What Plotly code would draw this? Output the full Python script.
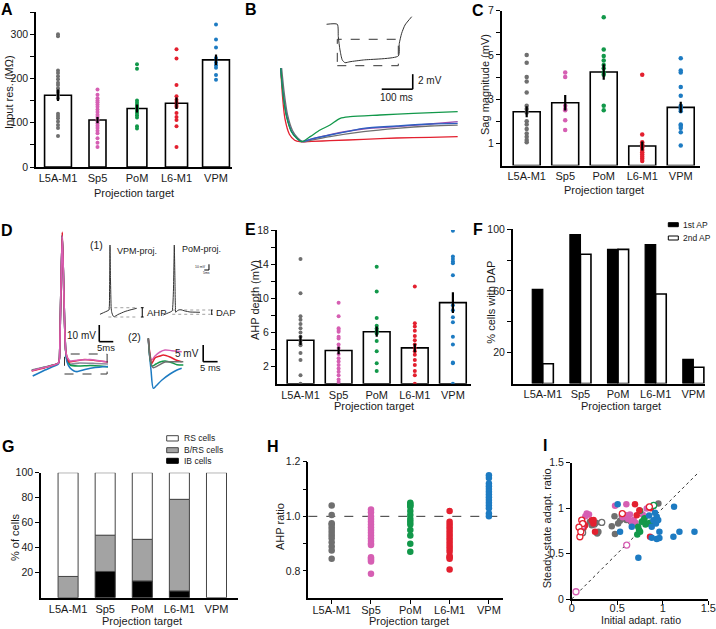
import plotly.graph_objects as go

W, H = 716, 629
FONT = "Liberation Sans, Arial, sans-serif"

categories = ["L5A-M1", "Sp5", "PoM", "L6-M1", "VPM"]
group_colors = ["#6f6f6f", "#d65fb3", "#12984a", "#e3202f", "#1d7bc2"]

# ---------------- A: input resistance ----------------
inres_mean = [162, 106, 132, 144, 242]
inres_sem = [13, 7, 9, 13, 12]
inres_points = [
    [300, 295, 218, 212, 205, 198, 190, 185, 178, 172, 168, 162, 155, 120, 115, 110, 103, 95, 88, 70],
    [175, 163, 155, 150, 146, 141, 136, 130, 124, 118, 113, 108, 103, 98, 93, 88, 82, 76, 65, 55, 45],
    [232, 222, 150, 145, 140, 136, 132, 127, 122, 117, 112, 92, 87],
    [266, 245, 185, 160, 152, 146, 140, 136, 122, 113, 106, 92, 45],
    [322, 288, 270, 246, 236, 230, 224, 208, 197],
]
inres_bar_width = [0.68, 0.43, 0.5, 0.56, 0.68]

# ---------------- C: sag ----------------
sag_mean = [2.43, 2.84, 4.23, 0.88, 2.63]
sag_sem = [0.25, 0.35, 0.35, 0.2, 0.25]
sag_points = [
    [5.0, 4.65, 4.0, 3.8, 3.3, 2.7, 2.55, 2.4, 2.0, 1.85, 1.65, 1.45, 1.3, 1.15, 1.05],
    [4.2, 4.0, 2.7, 2.55, 2.5, 2.05, 1.6],
    [6.7, 5.25, 4.95, 4.75, 4.55, 4.4, 4.2, 4.1, 2.7, 2.5],
    [4.1, 1.4, 1.05, 0.95, 0.85, 0.8, 0.7, 0.6, 0.5, 0.4, 0.3, 0.2],
    [4.85, 4.3, 4.2, 3.55, 3.15, 2.7, 2.6, 2.55, 2.45, 1.85, 1.8, 1.7, 1.5, 0.9],
]

# ---------------- E: AHP depth ----------------
ahp_mean = [5.1, 3.9, 6.1, 4.2, 9.5]
ahp_sem = [0.55, 0.45, 0.6, 0.5, 1.2]
ahp_points = [
    [14.6, 10.6, 7.9, 7.5, 7.0, 6.5, 6.0, 5.5, 5.0, 4.7, 4.5, 3.6, 2.8, 1.0, 0.0],
    [9.5, 7.9, 6.5, 6.3, 6.1, 5.5, 5.3, 4.6, 4.2, 3.5, 3.0, 2.6, 2.2, 1.8, 1.4, 1.0, 0.5, 0.2],
    [13.7, 10.8, 7.7, 6.8, 6.5, 6.3, 6.1, 5.9, 5.0, 3.8, 2.4, 1.5],
    [11.4, 7.1, 6.7, 6.2, 5.6, 5.1, 4.6, 4.2, 3.8, 3.4, 2.8, 2.2, 1.5, 1.0, 0.0],
    [17.9, 14.9, 14.6, 14.3, 14.1, 12.7, 9.2, 8.6, 7.8, 7.2, 5.5, 4.6, 2.5, 2.4, 0.0],
]

# ---------------- F: % cells with DAP ----------------
dap_first = [61, 96.5, 87, 90, 15.7]
dap_second = [12.8, 83.8, 87, 58, 10.5]

# ---------------- G: firing classes ----------------
ib_cells = [0, 21, 13.4, 5.4, 0]
brs_cells = [17, 29, 33.3, 73.3, 0]
rs_cells = [83, 50, 53.3, 21.3, 100]

# ---------------- H: AHP ratio ----------------
ahp_ratio_points = [
    [1.04, 1.005, 0.975, 0.97, 0.96, 0.95, 0.94, 0.93, 0.92, 0.905, 0.89, 0.875, 0.845],
    [1.025, 1.015, 1.0, 0.99, 0.98, 0.97, 0.96, 0.95, 0.94, 0.93, 0.92, 0.91, 0.90, 0.895, 0.85, 0.845, 0.84, 0.835, 0.79],
    [1.05, 1.045, 1.04, 1.035, 1.02, 1.005, 0.99, 0.98, 0.97, 0.95, 0.93, 0.90, 0.87],
    [1.02, 0.98, 0.97, 0.96, 0.95, 0.94, 0.93, 0.92, 0.91, 0.90, 0.89, 0.88, 0.87, 0.855, 0.85, 0.845, 0.805],
    [1.15, 1.14, 1.12, 1.11, 1.10, 1.09, 1.08, 1.07, 1.06, 1.05, 1.04, 1.03, 1.01, 1.0],
]

# ---------------- I: adaptation ratios (filled / open per group) ----------------
adapt_init_filled = [
    [0.44, 0.475, 0.51, 0.53, 0.567, 0.22, 0.267, 0.293, 0.25, 0.2, 0.952, 0.6, 0.65, 0.47, 0.55, 0.28],
    [0.165, 0.19, 0.476, 0.6, 0.6, 0.64, 0.66, 0.68, 0.78, 0.824, 0.70, 0.56, 0.62, 0.15],
    [0.751, 0.77, 0.79, 0.73, 0.751, 0.81, 0.842, 0.86, 0.72, 0.74, 0.80],
    [0.128, 0.146, 0.11, 0.22, 0.238, 0.256, 0.695, 0.743, 0.714, 0.87, 0.86, 0.24, 0.13],
    [0.505, 1.124, 0.915, 0.934, 0.897, 0.926, 0.879, 0.531, 0.963, 0.879, 0.934, 0.963, 1.117, 1.183, 1.348, 0.732, 0.66, 0.85, 0.95],
]
adapt_steady_filled = [
    [0.80, 0.714, 0.83, 0.86, 0.887, 0.813, 0.84, 0.74, 0.82, 0.85, 1.05, 0.87, 0.85, 0.91, 0.92, 0.72],
    [0.94, 0.93, 1.025, 1.044, 0.923, 0.93, 0.85, 0.87, 0.93, 0.996, 0.84, 0.90, 0.88, 0.91],
    [0.971, 0.85, 0.87, 0.795, 0.74, 0.82, 0.832, 0.84, 0.71, 0.76, 0.89],
    [0.83, 0.81, 0.795, 0.868, 0.832, 0.74, 1.044, 0.978, 0.923, 1.0, 0.685, 0.87, 0.78],
    [1.044, 1.014, 0.949, 0.905, 0.868, 0.832, 0.795, 0.74, 0.74, 0.674, 0.66, 0.67, 0.685, 0.74, 0.74, 0.454, 0.795, 0.92, 0.87],
]
adapt_init_open = [
    [0.33, 0.12],
    [0.604, 0.047, 0.11],
    [0.9],
    [0.11, 0.09, 0.556, 0.853, 0.12, 0.08, 0.10],
    [],
]
adapt_steady_open = [
    [0.843, 0.73],
    [0.593, 0.08, 0.80],
    [1.03],
    [0.868, 0.685, 0.94, 1.014, 0.83, 0.79, 0.74],
    [],
]

# ---------------- B: sag traces (ms, mV) ----------------
sag_trace_colors = ["#e3202f", "#6f6f6f", "#9a4fb0", "#2f5fc0", "#12984a"]
sag_trace_t = [
    [0, 6, 14, 28, 45, 62, 100, 159, 267, 374, 482, 571],
    [3, 12, 22, 38, 55, 72, 100, 159, 267, 374, 482, 571],
    [0, 8.6, 19, 35, 52, 68, 95, 159, 267, 374, 482, 571],
    [0, 8.6, 19, 35, 52, 68, 95, 159, 213, 267, 374, 482, 571],
    [0, 8.6, 19, 35, 52, 68, 95, 127, 159, 192, 224, 320, 428, 571],
]
sag_trace_v = [
    [9.8, 6.0, 3.0, 1.0, 0.2, 0.0, 0.05, 0.13, 0.31, 0.49, 0.58, 0.67],
    [9.8, 6.3, 3.6, 1.5, 0.5, 0.0, 0.2, 0.67, 1.33, 1.78, 2.09, 2.22],
    [9.8, 6.1, 3.4, 1.35, 0.45, 0.0, 0.3, 0.95, 1.69, 2.0, 2.36, 2.67],
    [9.8, 6.2, 3.5, 1.4, 0.45, 0.0, 0.31, 0.89, 1.33, 1.78, 2.09, 2.36, 2.45],
    [9.8, 6.0, 3.3, 1.3, 0.45, 0.0, 0.67, 1.56, 2.22, 3.11, 3.33, 3.56, 3.78, 4.0],
]
sag_full_t = [148, 182.6, 185.8, 191.3, 198.7, 207.4, 223.5, 266.5, 379.4, 382.6, 390.3, 401, 422.6]
sag_full_v = [15.65, 15.65, 14.0, 12.22, 10.89, 10.53, 10.66, 10.89, 11.43, 13.1, 14.45, 15.55, 16.66]

# ---------------- D: spike traces (ms, mV) ----------------
spike_colors = ["#8e8a9e", "#12984a", "#1d7bc2", "#e3202f", "#d65fb3"]
spike_t = [
    [2.4, 7.1, 11.9, 12.3, 12.6, 12.96, 13.3, 13.67, 14.1, 14.5, 15.0, 16.1, 19.6, 25.0, 29.6],
    [2.4, 7.1, 11.9, 12.3, 12.6, 12.96, 13.3, 13.67, 14.1, 14.5, 15.0, 16.1, 18.9, 23.2, 26.8, 29.6],
    [2.75, 7.1, 11.9, 12.3, 12.6, 12.96, 13.3, 13.67, 14.1, 14.5, 15.0, 16.1, 17.5, 18.6, 21.4, 25.0, 29.6],
    [2.4, 7.1, 11.9, 12.3, 12.6, 12.96, 13.3, 13.67, 14.1, 14.5, 15.0, 15.7, 17.85, 21.4, 25.0, 29.6],
    [2.4, 7.1, 11.9, 12.3, 12.6, 12.96, 13.3, 13.67, 14.1, 14.5, 15.0, 16.1, 19.6, 23.2, 26.8, 29.6],
]
spike_v = [
    [-70.0, -68.2, -65.8, -62.8, -40, -10, 11.0, -10, -40, -58, -64.0, -66.4, -65.8, -66.1, -66.4],
    [-70.3, -68.4, -66.0, -62.8, -40, -10, 11.0, -10, -40, -58, -64.0, -67.0, -67.6, -67.3, -67.6, -68.2],
    [-73.6, -70.0, -66.4, -62.8, -40, -10, 11.0, -10, -40, -58, -65.2, -68.8, -70.6, -71.0, -69.7, -68.5, -67.9],
    [-70.6, -68.6, -66.0, -62.8, -40, -10, 12.8, -10, -40, -58, -62.2, -65.2, -64.6, -63.7, -64.3, -65.2],
    [-70.4, -68.4, -65.9, -62.8, -40, -10, 10.4, -10, -40, -58, -62.2, -64.6, -64.0, -63.7, -64.6, -65.2],
]
# inset (1): example spikes
vpm_ex_t = [5.3, 10.6, 14.9, 15.5, 15.96, 16.5, 17.2, 17.8, 19.2, 20.5, 24.5, 31.9, 37.2, 44.4]
vpm_ex_v = [-70.5, -66.5, -63.0, -28.0, 50.75, -10.5, -59.5, -67.0, -73.5, -74.7, -70.9, -65.6, -63.0, -60.0]
pom_ex_t = [72.7, 77.7, 82.2, 83.5, 84.4, 85.1, 85.9, 87.2, 90.4, 95.8, 101.1, 111.7]
pom_ex_v = [-71.75, -68.25, -64.75, -28.0, 50.75, -10.5, -67.0, -64.75, -62.1, -64.75, -66.5, -67.0]
# inset (2): zoom of AHP/DAP
zoom_colors = ["#1d7bc2", "#d65fb3", "#e3202f", "#12984a", "#6f6f6f"]
zoom_t = [
    [6.35, 6.77, 7.29, 8.09, 9.02, 11.1, 13.88, 16.31, 17.94],
    [6.35, 6.94, 7.53, 8.68, 10.41, 12.15, 14.57, 17.94],
    [6.35, 6.94, 7.53, 8.68, 10.41, 11.56, 13.88, 15.96, 17.94],
    [6.35, 6.94, 7.63, 9.02, 10.41, 12.15, 14.57, 16.31, 18.5],
    [6.35, 6.94, 7.63, 8.09, 9.72, 12.15, 15.6, 18.5],
]
zoom_v = [
    [-60.0, -65.0, -69.5, -75.0, -74.3, -72.5, -70.7, -69.5, -69.0],
    [-60.0, -65.0, -66.5, -65.3, -64.1, -63.5, -63.7, -64.0],
    [-60.0, -65.0, -67.5, -65.9, -65.3, -65.0, -65.6, -66.5, -67.0],
    [-60.0, -65.9, -68.3, -67.7, -67.1, -66.8, -67.3, -67.9, -68.0],
    [-60.0, -65.9, -68.3, -68.8, -68.2, -67.1, -67.0, -67.0],
]

# =====================================================================
fig = go.Figure()
layout = {}


def ax_id(n):
    return "" if n == 1 else str(n)


def add_axes(n, xpx, ypx, xr, yr, visible=True, xkw=None, ykw=None):
    s = ax_id(n)
    base = dict(showgrid=False, zeroline=False, fixedrange=True, automargin=False)
    xa = dict(base, domain=[xpx[0] / W, xpx[1] / W], range=xr, anchor="y" + s)
    ya = dict(base, domain=[1 - ypx[1] / H, 1 - ypx[0] / H], range=yr, anchor="x" + s)
    if visible:
        style = dict(showline=True, linecolor="black", linewidth=1.5, ticks="outside",
                     ticklen=4, tickwidth=1.2, tickcolor="black")
        xa.update(style, tickfont=dict(size=11, family=FONT, color="#1a1a1a"))
        ya.update(style, tickfont=dict(size=10.5, family=FONT, color="#1a1a1a"))
    else:
        xa["visible"] = False
        ya["visible"] = False
    if xkw:
        xa.update(xkw)
    if ykw:
        ya.update(ykw)
    layout["xaxis" + s] = xa
    layout["yaxis" + s] = ya


cat_x = dict(tickmode="array", tickvals=list(range(5)), ticktext=categories, ticks="")

add_axes(1, (36, 232), (12, 167), [-0.557, 4.405], [0, 350], xkw=cat_x,
         ykw=dict(tickmode="array", tickvals=list(range(0, 351, 50)),
                  ticktext=[str(v) if v % 100 == 0 else "" for v in range(0, 351, 50)]))
add_axes(2, (501.7, 700), (10.7, 165.5), [-0.649, 4.5], [0, 7], xkw=cat_x,
         ykw=dict(tickmode="array", tickvals=list(range(1, 8)),
                  ticktext=[str(v) if v % 2 == 1 else "" for v in range(1, 8)]))
add_axes(3, (276.7, 471), (230, 383.8), [-0.625, 4.475], [0, 18], xkw=cat_x,
         ykw=dict(tickmode="array", tickvals=list(range(2, 19, 2)),
                  ticktext=[str(v) if v % 4 == 2 else "" for v in range(2, 19, 2)]))
add_axes(4, (512.7, 705), (229.3, 383.5), [-0.8, 4.31], [0, 100], xkw=cat_x,
         ykw=dict(tickmode="array", tickvals=[20, 40, 60, 80, 100],
                  ticktext=["20", "", "60", "", "100"]))
add_axes(5, (41, 238), (472.7, 597.7), [-0.73, 4.58], [0, 100], xkw=cat_x,
         ykw=dict(tickmode="array", tickvals=[20, 40, 60, 80, 100]))
add_axes(6, (308.3, 503.3), (461.7, 598.3), [-0.595, 4.366], [0.7, 1.2],
         xkw=dict(tickmode="array", tickvals=list(range(5)), ticktext=categories,
                  ticklabelstandoff=-3),
         ykw=dict(tickmode="array", tickvals=[0.8, 0.9, 1.0, 1.1, 1.2],
                  ticktext=["0.8", "", "1.0", "", "1.2"]))
add_axes(7, (571.7, 708.3), (462.7, 599), [0, 1.5], [0, 1.5],
         xkw=dict(tickmode="array", tickvals=[0, 0.5, 1, 1.5], ticktext=["0", "0.5", "1", "1.5"],
                  ticklabelstandoff=-6),
         ykw=dict(tickmode="array", tickvals=[0, 0.5, 1, 1.5], ticktext=["0", "0.5", "1", "1.5"]))
add_axes(8, (270, 465), (5, 175), [-34.5, 594.6], [-4.44, 18.22], visible=False)
add_axes(9, (25, 120), (225, 385), [0, 33.9], [-79, 17], visible=False)
add_axes(10, (95, 235), (238, 325), [0, 149], [-89.25, 63], visible=False)
add_axes(11, (130, 225), (330, 395), [0, 32.97], [-77, -57.5], visible=False)


def refs(n):
    s = ax_id(n)
    return dict(xaxis="x" + s, yaxis="y" + s)


def bar_panel(n, means, sems, points, widths, dot_size):
    fig.add_trace(go.Bar(x=list(range(5)), y=means, width=widths,
                         marker=dict(color="white", line=dict(color="black", width=1.6)),
                         showlegend=False, **refs(n)))
    for i, pts in enumerate(points):
        fig.add_trace(go.Scatter(x=[i] * len(pts), y=pts, mode="markers",
                                 marker=dict(size=dot_size, color=group_colors[i]),
                                 showlegend=False, **refs(n)))
    fig.add_trace(go.Scatter(x=list(range(5)), y=means, mode="markers",
                             marker=dict(size=1, color="black", opacity=0),
                             error_y=dict(type="data", array=sems, thickness=2.2, width=0, color="black"),
                             showlegend=False, **refs(n)))


bar_panel(1, inres_mean, inres_sem, inres_points, inres_bar_width, 4)
bar_panel(2, sag_mean, sag_sem, sag_points, [0.7] * 5, 4.5)
bar_panel(3, ahp_mean, ahp_sem, ahp_points, [0.7] * 5, 4)

# F
fig.add_trace(go.Bar(x=list(range(5)), y=dap_first, width=0.28, offset=-0.28,
                     marker=dict(color="black", line=dict(color="black", width=1.2)),
                     showlegend=False, **refs(4)))
fig.add_trace(go.Bar(x=list(range(5)), y=dap_second, width=0.28, offset=0,
                     marker=dict(color="white", line=dict(color="black", width=1.6)),
                     showlegend=False, **refs(4)))


# G (stacked via base); empty segments are not drawn
def nonzero(vals):
    return [v if v > 0 else None for v in vals]


brs_base = ib_cells
rs_base = [a + b for a, b in zip(ib_cells, brs_cells)]
fig.add_trace(go.Bar(x=list(range(5)), y=nonzero(ib_cells), width=0.54,
                     marker=dict(color="black", line=dict(color="#333", width=1)),
                     showlegend=False, **refs(5)))
fig.add_trace(go.Bar(x=list(range(5)), y=nonzero(brs_cells), base=brs_base, width=0.54,
                     marker=dict(color="#a3a3a3", line=dict(color="#444", width=1)),
                     showlegend=False, **refs(5)))
fig.add_trace(go.Bar(x=list(range(5)), y=nonzero(rs_cells), base=rs_base, width=0.54,
                     marker=dict(color="white", line=dict(color="#444", width=1)),
                     showlegend=False, **refs(5)))

# H
for i, pts in enumerate(ahp_ratio_points):
    fig.add_trace(go.Scatter(x=[i] * len(pts), y=pts, mode="markers",
                             marker=dict(size=6.5, color=group_colors[i]),
                             showlegend=False, **refs(6)))

# I
for i in range(5):
    fig.add_trace(go.Scatter(x=adapt_init_filled[i], y=adapt_steady_filled[i], mode="markers",
                             marker=dict(size=6.5, color=group_colors[i]),
                             showlegend=False, **refs(7)))
for i in range(5):
    if adapt_init_open[i]:
        fig.add_trace(go.Scatter(x=adapt_init_open[i], y=adapt_steady_open[i], mode="markers",
                                 marker=dict(size=6, color="white",
                                             line=dict(color=group_colors[i], width=1.3)),
                                 showlegend=False, **refs(7)))

# B traces
fig.add_trace(go.Scatter(x=sag_full_t, y=sag_full_v, mode="lines",
                         line=dict(color="#333", width=1, shape="spline", smoothing=0.6),
                         showlegend=False, **refs(8)))
for t, v, c in zip(sag_trace_t, sag_trace_v, sag_trace_colors):
    fig.add_trace(go.Scatter(x=t, y=v, mode="lines",
                             line=dict(color=c, width=1.3, shape="spline", smoothing=0.8),
                             showlegend=False, **refs(8)))

# D traces
for t, v, c in zip(spike_t, spike_v, spike_colors):
    fig.add_trace(go.Scatter(x=t, y=v, mode="lines",
                             line=dict(color=c, width=1.6, shape="spline", smoothing=0.4),
                             showlegend=False, **refs(9)))
for t, v in ((vpm_ex_t, vpm_ex_v), (pom_ex_t, pom_ex_v)):
    fig.add_trace(go.Scatter(x=t, y=v, mode="lines",
                             line=dict(color="#333", width=1, shape="spline", smoothing=0.3),
                             showlegend=False, **refs(10)))
for t, v, c in zip(zoom_t, zoom_v, zoom_colors):
    fig.add_trace(go.Scatter(x=t, y=v, mode="lines",
                             line=dict(color=c, width=1.5, shape="spline", smoothing=0.8),
                             showlegend=False, **refs(11)))

# ---------------- shapes ----------------
shapes = []


def line(x0, y0, x1, y1, n, color="black", width=1.5, dash=None, layer="above", xref=None):
    shapes.append(dict(type="line", x0=x0, y0=y0, x1=x1, y1=y1, layer=layer,
                       xref=xref or "x" + ax_id(n), yref="y" + ax_id(n),
                       line=dict(color=color, width=width, dash=dash or "solid")))


def rect_px(x0, y0, x1, y1, fill, edge):
    shapes.append(dict(type="rect", xref="paper", yref="paper",
                       x0=x0 / W, x1=x1 / W, y0=1 - y1 / H, y1=1 - y0 / H,
                       fillcolor=fill, line=dict(color=edge, width=1)))


# H reference line, I diagonal
line(0, 1.0, 1, 1.0, 6, xref="x6 domain", color="#333", width=1, dash="dash", layer="below")
line(0, 0, 1.4, 1.4, 7, color="#333", width=1, dash="dot", layer="below")

# B inset box and scale bar
shapes.append(dict(type="rect", xref="x8", yref="y8", x0=182.6, x1=379.4, y0=10.13, y1=13.65,
                   line=dict(color="#333", width=1, dash="dash")))
line(426, 7.0, 426, 9.0, 8, width=1.6)
line(326, 7.0, 426, 7.0, 8, width=1.6)

# D main box and scale bar
shapes.append(dict(type="rect", xref="x9", yref="y9", x0=14.1, x1=29.3, y0=-72.4, y1=-60.4,
                   line=dict(color="#333", width=1, dash="dash")))
line(26.5, -53, 26.5, -43, 9, width=1.6)
line(26.5, -53, 31.5, -53, 9, width=1.6)

# D inset (1) guides
line(14.2, -59, 46.1, -59, 10, color="#888", width=0.8, dash="dot")
line(14.2, -75.25, 46.1, -75.25, 10, color="#888", width=0.8, dash="dot")
line(50.3, -59, 50.3, -75.25, 10, width=1)
line(48.8, -59, 51.8, -59, 10, width=1)
line(48.8, -75.25, 51.8, -75.25, 10, width=1)
line(82.2, -63, 122.4, -63, 10, color="#888", width=0.8, dash="dot")
line(82.2, -70.5, 122.4, -70.5, 10, color="#888", width=0.8, dash="dot")
line(124.2, -63, 124.2, -70.5, 10, width=0.9)
line(123.2, -63, 125.2, -63, 10, width=0.9)
line(123.2, -70.5, 125.2, -70.5, 10, width=0.9)
line(121.3, 7, 121.3, 17, 10, width=1)
line(116.3, 7, 121.3, 7, 10, width=1)

# D inset (2) scale bar
line(25.4, -67, 25.4, -62, 11, width=1.6)
line(25.4, -67, 30.4, -67, 11, width=1.6)

# legends (F, G)
rect_px(668.3, 222.7, 678.3, 226.7, "black", "black")
rect_px(668.3, 236, 678.3, 240, "white", "black")
rect_px(166.7, 435.7, 178.3, 441, "white", "#444")
rect_px(166.7, 447.7, 178.3, 452.7, "#a3a3a3", "#444")
rect_px(166.7, 458.3, 178.3, 463.3, "black", "black")

# ---------------- annotations ----------------
ann = []


def txt(text, x, y, size=11, xanchor="center", yanchor="middle", angle=0, bold=False, n=None, color="#1a1a1a"):
    if bold:
        text = "<b>" + text + "</b>"
    d = dict(text=text, showarrow=False, xanchor=xanchor, yanchor=yanchor, textangle=angle,
             font=dict(size=size, family=FONT, color=color))
    if n is None:
        d.update(xref="paper", yref="paper", x=x / W, y=1 - y / H)
    else:
        d.update(xref="x" + ax_id(n), yref="y" + ax_id(n), x=x, y=y)
    ann.append(d)


# panel letters
for letter, px, py in [("A", 7.3, 9.5), ("B", 250.7, 9.5), ("C", 478.3, 10), ("D", 7.3, 230),
                       ("E", 250.7, 229.3), ("F", 478.3, 229.3), ("G", 8.3, 446),
                       ("H", 273.3, 446), ("I", 545, 445)]:
    txt(letter, px, py, size=16, bold=True, color="black")

# axis titles
txt("Input res. (MΩ)", 9, 92, angle=-90)
txt("Projection target", 134, 192.5)
txt("Sag magnitude (mV)", 485, 85, angle=-90)
txt("Projection target", 604, 190)
txt("AHP depth (mV)", 255, 300, angle=-90)
txt("Projection target", 374, 406)
txt("% cells with DAP", 490.7, 302, angle=-90)
txt("Projection target", 620.5, 406)
txt("% of cells", 15, 537, angle=-90)
txt("Projection target", 141.7, 620.5)
txt("AHP ratio", 280, 527, angle=-90)
txt("Projection target", 409, 620.5)
txt("Steady-state adapt. ratio", 547.3, 528, angle=-90)
txt("Initial adapt. ratio", 640.5, 619.5, size=10.5)

# legend texts
txt("1st AP", 680.5, 224.7, size=8.5, xanchor="left")
txt("2nd AP", 680.5, 238, size=8.5, xanchor="left")
txt("RS cells", 181.7, 438.3, size=8.5, xanchor="left")
txt("B/RS cells", 181.7, 450, size=8.5, xanchor="left")
txt("IB cells", 181.7, 461, size=8.5, xanchor="left")

# B scale labels
txt("2 mV", 436, 8.1, size=10, xanchor="left", n=8)
txt("100 ms", 375, 5.85, size=10, n=8)

# D labels
txt("10 mV", 25.9, -49, size=10, xanchor="right", n=9)
txt("5ms", 29.0, -56.6, size=9.5, n=9)
txt("(1)", 1.8, 51, size=10.5, n=10)
txt("VPM-proj.", 21.5, 40, size=9, xanchor="left", n=10)
txt("PoM-proj.", 90.5, 44, size=9, xanchor="left", n=10)
txt("AHP", 53, -68, size=9.5, xanchor="left", n=10)
txt("DAP", 126.5, -67, size=9.5, xanchor="left", n=10)
txt("10 mV", 120.3, 13, size=3.5, xanchor="right", n=10)
txt("5ms", 118.8, 2.5, size=3.5, n=10)
txt("(2)", 1.7, -59.5, size=10.5, n=11)
txt("5 mV", 24.6, -64.4, size=10, xanchor="right", n=11)
txt("5 ms", 27.9, -68.7, size=9.5, n=11)

layout.update(
    template="none",
    width=W, height=H, margin=dict(l=0, r=0, t=0, b=0, pad=0, autoexpand=False),
    paper_bgcolor="white", plot_bgcolor="rgba(0,0,0,0)",
    barmode="overlay", showlegend=False,
    font=dict(family=FONT, size=11, color="#1a1a1a"),
    shapes=shapes, annotations=ann,
)
fig.update_layout(**layout)
fig.write_html("out.html", config={"displayModeBar": False},
               post_script="document.body.style.margin='0px';document.body.style.overflow='hidden';")
